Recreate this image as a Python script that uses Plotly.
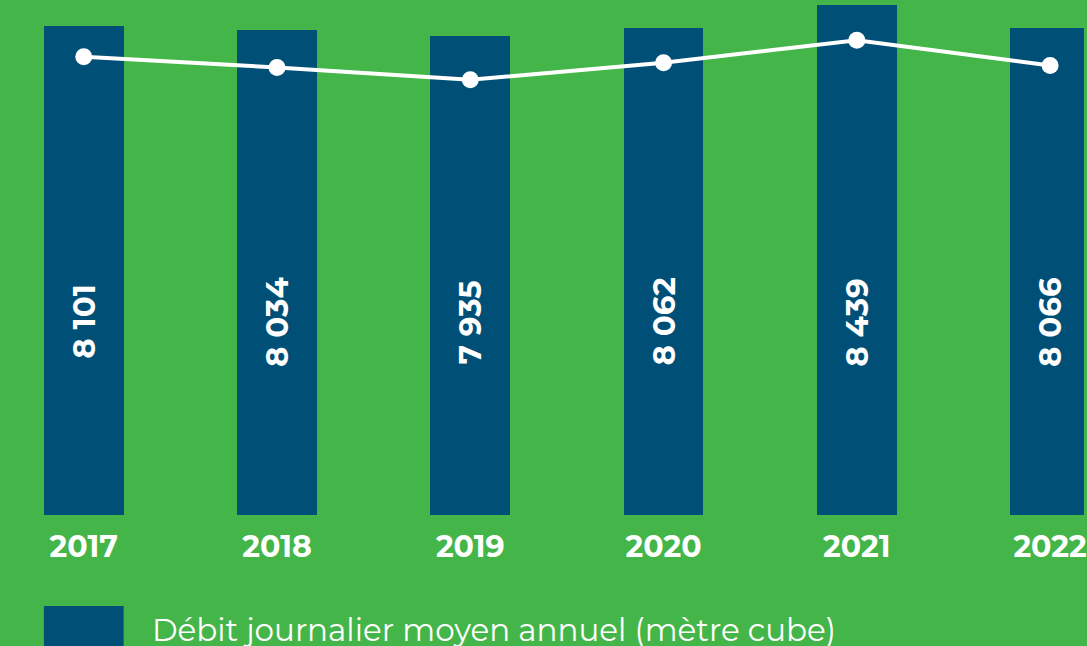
import plotly.graph_objects as go

years = ["2017", "2018", "2019", "2020", "2021", "2022"]
debit = [8101, 8034, 7935, 8062, 8439, 8066]
line_index = [89.0, 86.9, 84.5, 87.8, 92.2, 87.3]
legend_label = "Débit journalier moyen annuel (mètre cube)"

GREEN = "#44b649"
BLUE = "#004f77"
FONT = "Montserrat, 'Open Sans', sans-serif"

def fmt(v):
    return f"{v:,}".replace(",", " ")

fig = go.Figure()
fig.add_trace(go.Bar(x=years, y=debit, marker=dict(color=BLUE, line=dict(width=0)),
                     width=0.413, showlegend=False, hoverinfo="skip"))
fig.add_trace(go.Scatter(x=years, y=line_index, yaxis="y2", mode="lines+markers",
                         line=dict(color="white", width=4),
                         marker=dict(color="white", size=17),
                         showlegend=False, hoverinfo="skip"))

for i, v in enumerate(debit):
    fig.add_annotation(x=i, y=0.375, xref="x", yref="paper", text=f"<b>{fmt(v)}</b>",
                       textangle=-90, showarrow=False,
                       font=dict(family=FONT, size=31, color="white"))

fig.add_shape(type="rect", xref="paper", yref="paper",
              x0=44/1087, x1=124/1087, y0=-0.2816, y1=-0.1767,
              fillcolor=BLUE, line=dict(width=0))
fig.add_annotation(x=150/1087, y=-0.2233, xref="paper", yref="paper", xanchor="left",
                   yanchor="middle", text=legend_label, showarrow=False,
                   font=dict(family=FONT, size=31, color="white"))

fig.update_layout(
    width=1087, height=646,
    margin=dict(l=0, r=0, t=0, b=131),
    paper_bgcolor=GREEN, plot_bgcolor=GREEN,
    bargap=0,
    xaxis=dict(type="category", range=[-0.4334, 5.1755], showgrid=False, zeroline=False,
               showline=False, ticks="outside", ticklen=5, tickcolor="rgba(0,0,0,0)",
               tickfont=dict(family=FONT, size=30, color="white"),
               tickvals=years, ticktext=[f"<b>{y}</b>" for y in years]),
    yaxis=dict(range=[0, 8530], visible=False, showgrid=False, zeroline=False),
    yaxis2=dict(range=[0, 100], overlaying="y", visible=False, showgrid=False, zeroline=False),
)

fig.write_html("out.html", config={"displayModeBar": False},
               post_script="document.body.style.margin='0px';document.body.style.overflow='hidden';")
